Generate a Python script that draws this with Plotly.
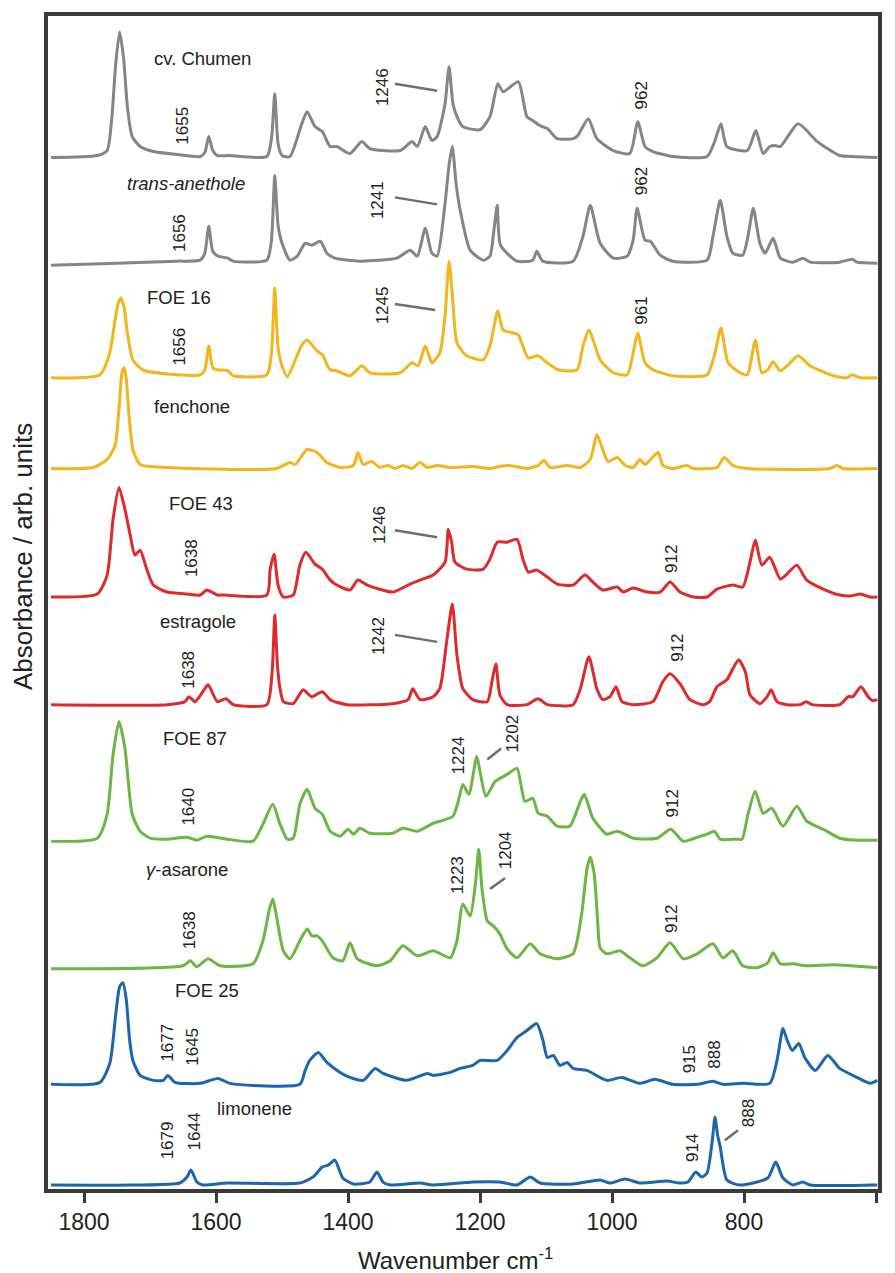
import plotly.graph_objects as go

# ---------------- data (wavenumber in cm-1, absorbance in arb. units above each trace's baseline) ----------------
chumen_wn = [1850, 1780, 1765, 1758, 1752, 1746, 1740, 1734, 1727, 1715, 1695, 1659, 1624, 1617, 1611, 1605, 1598, 1579,
             1523, 1516, 1511, 1506, 1500, 1488, 1470, 1462, 1450, 1439, 1427, 1417, 1397, 1379, 1367, 1321, 1303, 1295,
             1283, 1273, 1265, 1253, 1247, 1241, 1235, 1226, 1200, 1185, 1173, 1165, 1142, 1129, 1120, 1109, 1098, 1083,
             1059, 1052, 1036, 1023, 998, 973, 961, 950, 938, 908, 856, 844, 835, 826, 795, 782, 771, 761, 753, 745, 718,
             689, 655, 635, 598]
chumen_ab = [1, 3, 8, 40, 95, 127, 100, 50, 22, 12, 7, 4, 2, 6, 22, 8, 3, 3,
             2, 20, 65, 15, 3, 2, 35, 47, 32, 27, 12, 12, 5, 17, 10, 8, 17, 12,
             32, 18, 22, 55, 92, 55, 42, 32, 29, 42, 75, 67, 77, 42, 38, 33, 30, 20,
             20, 23, 40, 20, 8, 5, 37, 12, 7, 2, 2, 18, 35, 12, 8, 28, 5, 12, 13, 12, 35,
             17, 3, 2, 1]

anethole_wn = [1850, 1750, 1659, 1624, 1617, 1611, 1605, 1597, 1582, 1574, 1523, 1516, 1511, 1506, 1500, 1488, 1477, 1465,
               1455, 1442, 1432, 1420, 1382, 1326, 1306, 1295, 1283, 1273, 1265, 1253, 1247, 1242, 1236, 1230, 1215, 1195,
               1185, 1179, 1174, 1169, 1144, 1120, 1114, 1105, 1059, 1044, 1033, 1018, 998, 977, 968, 962, 950, 942, 927,
               908, 856, 847, 836, 826, 817, 802, 794, 786, 776, 768, 756, 745, 726, 711, 700, 655, 636, 629, 598]
anethole_ab = [0, 2, 4, 5, 12, 39, 14, 9, 7, 4, 5, 25, 90, 40, 22, 5, 9, 22,
               20, 24, 12, 7, 4, 7, 15, 9, 37, 12, 9, 62, 100, 119, 80, 55, 15, 5,
               9, 35, 60, 20, 4, 5, 14, 4, 4, 29, 60, 22, 7, 9, 25, 57, 25, 24, 10,
               4, 5, 29, 65, 29, 12, 10, 29, 57, 22, 12, 27, 7, 3, 7, 3, 3, 6, 3, 2]

foe16_wn = [1850, 1776, 1761, 1753, 1748, 1744, 1739, 1735, 1726, 1711, 1659, 1624, 1617, 1611, 1605, 1598, 1582, 1574,
            1523, 1516, 1511, 1506, 1500, 1492, 1470, 1462, 1447, 1439, 1427, 1417, 1397, 1379, 1367, 1321, 1303, 1294,
            1283, 1273, 1261, 1253, 1247, 1241, 1235, 1220, 1195, 1185, 1173, 1165, 1150, 1142, 1127, 1112, 1098, 1082,
            1053, 1044, 1035, 1018, 998, 977, 968, 961, 950, 938, 908, 856, 844, 835, 824, 806, 795, 788, 783, 773, 764,
            756, 745, 733, 718, 700, 665, 644, 636, 624, 598]
foe16_ab = [0, 3, 25, 58, 75, 80, 70, 48, 18, 8, 3, 3, 8, 32, 10, 8, 7, 2,
            3, 25, 90, 30, 12, 1, 33, 38, 27, 23, 8, 7, 2, 12, 5, 5, 15, 12,
            32, 15, 25, 62, 117, 75, 35, 22, 18, 32, 67, 48, 45, 43, 20, 22, 15, 8,
            8, 32, 48, 18, 5, 3, 25, 45, 15, 8, 2, 3, 25, 50, 15, 5, 3, 22, 38, 5, 8,
            16, 7, 13, 22, 12, 2, 0, 3, 0, 0]

fenchone_wn = [1850, 1786, 1765, 1753, 1747, 1742, 1739, 1736, 1732, 1726, 1715, 1674, 1508, 1488, 1480, 1462, 1447, 1432,
               1412, 1392, 1385, 1377, 1364, 1352, 1339, 1329, 1317, 1303, 1291, 1280, 1265, 1245, 1211, 1185, 1170, 1155,
               1129, 1112, 1103, 1094, 1068, 1048, 1033, 1023, 1014, 1006, 992, 980, 968, 958, 950, 939, 930, 923, 908,
               886, 877, 841, 830, 817, 795, 670, 659, 650, 598]
fenchone_ab = [0, 1, 9, 23, 60, 98, 101, 90, 55, 19, 4, 1, 0, 6, 4, 19, 16, 6,
               1, 3, 16, 4, 7, 1, 3, 0, 3, 0, 6, 1, 3, 1, 2, 0, 2, 3,
               0, 3, 8, 1, 3, 1, 9, 34, 19, 7, 11, 3, 1, 9, 4, 11, 16, 3, 0,
               3, 0, 1, 11, 3, 0, 0, 3, 0, 0]

foe43_wn = [1850, 1780, 1765, 1756, 1747, 1738, 1730, 1723, 1715, 1705, 1695, 1674, 1644, 1624, 1614, 1598, 1589, 1523,
            1518, 1512, 1506, 1498, 1483, 1473, 1464, 1450, 1439, 1427, 1417, 1397, 1385, 1371, 1332, 1306, 1291, 1271,
            1253, 1248, 1243, 1238, 1220, 1195, 1185, 1174, 1159, 1144, 1135, 1127, 1114, 1098, 1083, 1059, 1041, 1029,
            1014, 992, 983, 968, 947, 927, 912, 897, 877, 856, 841, 817, 802, 791, 783, 773, 761, 745, 735, 720, 705,
            680, 655, 639, 624, 609, 598]
foe43_ab = [0, 3, 22, 78, 110, 88, 62, 42, 47, 28, 12, 5, 3, 2, 7, 2, 2, 2,
            28, 43, 12, 0, 2, 32, 45, 33, 28, 17, 12, 7, 17, 12, 5, 13, 17, 22,
            35, 68, 55, 35, 28, 28, 38, 55, 55, 58, 38, 25, 27, 20, 13, 12, 22, 15,
            7, 10, 5, 9, 5, 5, 15, 5, 0, 0, 8, 12, 10, 35, 57, 32, 40, 18, 23, 32, 17,
            8, 2, 1, 3, 0, 0]

estragole_wn = [1850, 1674, 1647, 1641, 1632, 1620, 1612, 1598, 1585, 1574, 1523, 1515, 1511, 1507, 1503, 1498, 1483, 1468,
                1455, 1439, 1427, 1402, 1332, 1309, 1302, 1291, 1271, 1261, 1250, 1242, 1235, 1226, 1211, 1189, 1182, 1176,
                1170, 1159, 1129, 1112, 1098, 1059, 1048, 1035, 1023, 1014, 1003, 994, 985, 968, 938, 923, 912, 897, 882,
                862, 852, 841, 826, 817, 808, 798, 791, 776, 765, 759, 750, 735, 715, 706, 697, 655, 642, 635, 623, 612,
                605, 598]
estragole_ab = [0, 0, 3, 8, 3, 13, 20, 3, 6, 0, 0, 33, 90, 40, 16, 3, 1, 15,
                8, 13, 5, 0, 1, 5, 16, 5, 8, 16, 66, 101, 50, 16, 5, 3, 23, 41,
                10, 0, 0, 6, 0, 0, 16, 48, 16, 5, 8, 18, 3, 0, 3, 23, 31, 21, 5,
                0, 3, 18, 25, 36, 45, 33, 10, 1, 8, 15, 3, 0, 0, 3, 0, 0, 8, 8, 18, 8,
                4, 5]

foe87_wn = [1850, 1780, 1765, 1756, 1747, 1738, 1727, 1715, 1700, 1674, 1644, 1629, 1614, 1583, 1544, 1529, 1514, 1503,
            1492, 1483, 1473, 1462, 1450, 1439, 1427, 1412, 1400, 1392, 1382, 1367, 1332, 1317, 1295, 1271, 1261, 1241,
            1233, 1226, 1217, 1205, 1200, 1191, 1177, 1159, 1144, 1132, 1120, 1112, 1098, 1083, 1064, 1048, 1042, 1029,
            1008, 992, 968, 932, 911, 892, 867, 856, 845, 836, 811, 803, 794, 783, 771, 758, 741, 720, 705, 680, 655,
            629, 598]
foe87_ab = [0, 3, 27, 87, 120, 93, 27, 10, 3, 2, 4, 1, 5, 2, 0, 17, 37, 17,
            2, 3, 37, 52, 33, 27, 10, 5, 12, 7, 13, 8, 8, 13, 10, 18, 20, 25,
            40, 57, 47, 85, 70, 45, 60, 67, 73, 40, 43, 28, 25, 15, 15, 40, 47, 23,
            7, 10, 3, 3, 12, 0, 5, 7, 10, 2, 2, 2, 27, 50, 28, 33, 15, 35, 20, 12, 3,
            1, 1]

asarone_wn = [1850, 1650, 1639, 1629, 1612, 1594, 1544, 1529, 1519, 1514, 1509, 1498, 1488, 1473, 1462, 1455, 1447, 1439,
              1423, 1408, 1397, 1386, 1356, 1336, 1317, 1295, 1271, 1245, 1235, 1226, 1215, 1207, 1202, 1197, 1189, 1180,
              1170, 1159, 1144, 1124, 1109, 1083, 1059, 1053, 1045, 1038, 1033, 1027, 1022, 1018, 1008, 988, 973, 953,
              932, 912, 892, 871, 847, 832, 817, 802, 780, 764, 756, 745, 726, 705, 665, 598]
asarone_ab = [0, 3, 8, 2, 10, 3, 5, 28, 60, 70, 55, 18, 10, 28, 40, 33, 33, 28,
              11, 8, 26, 10, 3, 8, 23, 13, 18, 11, 28, 65, 53, 85, 120, 80, 48, 43,
              35, 20, 11, 25, 15, 10, 15, 28, 60, 100, 112, 95, 50, 21, 15, 18, 11, 3,
              11, 26, 10, 15, 25, 11, 18, 3, 1, 6, 16, 5, 5, 3, 4, 1]

foe25_wn = [1850, 1776, 1761, 1752, 1746, 1741, 1736, 1731, 1726, 1715, 1695, 1680, 1673, 1662, 1624, 1597, 1579, 1473,
            1465, 1458, 1445, 1432, 1412, 1397, 1377, 1359, 1347, 1311, 1280, 1271, 1245, 1230, 1211, 1200, 1174, 1159,
            1144, 1129, 1114, 1105, 1098, 1089, 1079, 1068, 1059, 1038, 1008, 985, 958, 935, 908, 871, 847, 832, 802,
            761, 750, 741, 735, 727, 717, 708, 692, 673, 655, 629, 609, 598]
foe25_ab = [0, 2, 21, 70, 98, 102, 85, 45, 24, 9, 4, 4, 9, 2, 1, 6, 1, 0,
            14, 24, 32, 22, 12, 7, 4, 16, 11, 4, 11, 9, 12, 16, 19, 24, 24, 34,
            47, 54, 61, 45, 27, 29, 19, 22, 16, 14, 4, 7, 1, 5, 0, 0, 3, 0, 1,
            1, 24, 56, 45, 34, 41, 27, 14, 29, 16, 7, 1, 4]

limonene_wn = [1850, 1726, 1655, 1644, 1638, 1629, 1620, 1583, 1473, 1453, 1439, 1430, 1420, 1408, 1392, 1367, 1356, 1347,
               1336, 1291, 1271, 1211, 1170, 1144, 1124, 1109, 1059, 1018, 1003, 980, 958, 917, 897, 885, 873, 864, 856,
               848, 844, 840, 836, 826, 806, 764, 752, 741, 726, 711, 700, 605, 598]
limonene_ab = [0, 0, 2, 8, 15, 3, 0, 2, 2, 8, 18, 20, 25, 7, 1, 3, 13, 3,
               0, 2, 0, 3, 3, 0, 8, 2, 1, 5, 2, 6, 2, 4, 2, 3, 13, 8, 12,
               45, 68, 50, 38, 5, 0, 7, 23, 7, 0, 3, 0, 0, 0]

sample_names = ["cv. Chumen", "<i>trans-anethole</i>", "FOE 16", "fenchone", "FOE 43",
                "estragole", "FOE 87", "<i>γ</i>-asarone", "FOE 25", "limonene"]
baseline_offsets = [1034, 927, 814, 723, 594, 486, 349, 221, 105, 4]

# peak labels: (text, wavenumber position, vertical position)
peak_labels = [
    ("1655", 1650, 1067), ("1246", 1348, 1106), ("962", 955, 1097),
    ("1656", 1655, 959), ("1241", 1355, 992), ("962", 955, 1011),
    ("1245", 1348, 887), ("1656", 1655, 845), ("961", 955, 881),
    ("1638", 1638, 633), ("1246", 1352, 666), ("912", 911, 632),
    ("1638", 1641, 521), ("1242", 1353, 555), ("912", 900, 543),
    ("1640", 1642, 384), ("1224", 1232, 435), ("1202", 1150, 457), ("912", 909, 387),
    ("1638", 1639, 260), ("1223", 1235, 315), ("1204", 1162, 340), ("912", 909, 271),
    ("1677", 1674, 147), ("1645", 1636, 143), ("915", 882, 130), ("888", 845, 135),
    ("1679", 1674, 49), ("1644", 1633, 58), ("914", 879, 41), ("888", 794, 76),
]
name_positions = [(1620, 1134), (1645, 1009), (1656, 895), (1636, 785), (1623, 688),
                  (1627, 569), (1632, 452), (1644, 321), (1614, 199), (1541, 81)]
leaders = [((1329, 1109), (1265, 1102)), ((1329, 995), (1265, 988)), ((1329, 888), (1268, 882)),
           ((1329, 661), (1265, 654)), ((1329, 556), (1265, 549)), ((1189, 431), (1168, 442)),
           ((1185, 301), (1162, 312)), ((829, 49), (809, 59))]

x_ticks = [1800, 1600, 1400, 1200, 1000, 800, 600]

# ---------------- figure ----------------
series = [
    (chumen_wn, chumen_ab, "#858585"),
    (anethole_wn, anethole_ab, "#858585"),
    (foe16_wn, foe16_ab, "#F4B51C"),
    (fenchone_wn, fenchone_ab, "#F4B51C"),
    (foe43_wn, foe43_ab, "#DE2A2C"),
    (estragole_wn, estragole_ab, "#DE2A2C"),
    (foe87_wn, foe87_ab, "#6DB545"),
    (asarone_wn, asarone_ab, "#6DB545"),
    (foe25_wn, foe25_ab, "#1C66AE"),
    (limonene_wn, limonene_ab, "#1C66AE"),
]

FONT = "Arial, Liberation Sans, Helvetica, sans-serif"
fig = go.Figure()
for (wn, ab, col), name, off in zip(series, sample_names, baseline_offsets):
    fig.add_trace(go.Scatter(
        x=wn, y=[off + a for a in ab], mode="lines", name=name,
        line=dict(color=col, width=3, shape="spline", smoothing=0.6),
        showlegend=False, hoverinfo="skip"))

annotations = []
for name, (wx, yy) in zip(sample_names, name_positions):
    annotations.append(dict(x=wx, y=yy, xref="x", yref="y", text=name, showarrow=False,
                            font=dict(family=FONT, size=18.5, color="#222222"),
                            xanchor="center", yanchor="middle"))
for txt, wx, yy in peak_labels:
    annotations.append(dict(x=wx, y=yy, xref="x", yref="y", text=txt, showarrow=False, textangle=-90,
                            font=dict(family=FONT, size=17, color="#222222"),
                            xanchor="center", yanchor="middle"))
annotations.append(dict(x=-0.0301, y=0.5387, xref="paper", yref="paper", text="Absorbance / arb. units",
                        showarrow=False, textangle=-90, font=dict(family=FONT, size=26, color="#222222"),
                        xanchor="center", yanchor="middle"))
annotations.append(dict(x=0.4904, y=-0.0595, xref="paper", yref="paper", text="Wavenumber cm<sup>-1</sup>",
                        showarrow=False, font=dict(family=FONT, size=24, color="#222222"),
                        xanchor="center", yanchor="middle"))

shapes = [dict(type="line", xref="x", yref="y", x0=a[0], y0=a[1], x1=b[0], y1=b[1],
               line=dict(color="#6e6e6e", width=2.5)) for a, b in leaders]

fig.update_layout(
    width=895, height=1273,
    margin=dict(l=48, r=17, t=12, b=84),
    paper_bgcolor="white", plot_bgcolor="white",
    annotations=annotations, shapes=shapes,
    font=dict(family=FONT, color="#222222"),
)
fig.update_xaxes(range=[1854.6, 597], tickvals=x_ticks, ticktext=[str(t) for t in x_ticks],
                 ticks="outside", ticklen=10, tickwidth=2.5, tickcolor="#3a3a3a",
                 tickfont=dict(family=FONT, size=23, color="#222222"),
                 showline=True, linecolor="#3a3a3a", linewidth=3.5, mirror=True,
                 showgrid=False, zeroline=False)
fig.update_yaxes(range=[0, 1177], showticklabels=False, ticks="",
                 showline=True, linecolor="#3a3a3a", linewidth=3.5, mirror=True,
                 showgrid=False, zeroline=False)

fig.write_html("out.html")
